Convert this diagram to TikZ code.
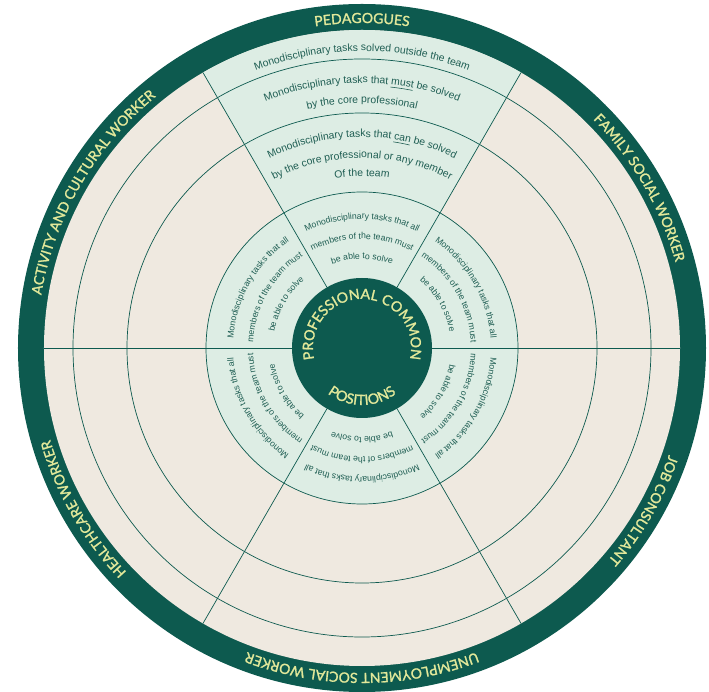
\documentclass[tikz,border=0pt]{standalone}
\usepackage{fontspec}
\newfontfamily\labelfont[FakeBold=1.4]{Lato}
\newfontfamily\taskfont{Liberation Sans}
\usetikzlibrary{decorations.text}
\definecolor{darkteal}{HTML}{0D5A4F}
\definecolor{mint}{HTML}{DDEDE4}
\definecolor{sand}{HTML}{EFE9E0}
\definecolor{straw}{HTML}{E2E89A}
\definecolor{ink}{HTML}{1F5E53}
\tikzset{
  ringline/.style={draw=darkteal, line width=0.7pt},
  ringlabel/.style={decorate, decoration={text along path, text align=center, text color=straw,
    text={|\labelfont\fontsize{14}{16}\selectfont|#1}}},
  hublabel/.style={decorate, decoration={text along path, text align=center, text color=straw,
    text={|\labelfont\fontsize{14.2}{16}\selectfont|#1}}},
  wedgetext/.style={decorate, decoration={text along path, text align=center, text color=ink,
    text={|\taskfont\fontsize{10.4}{12}\selectfont|#1}}},
  tasktext/.style={decorate, decoration={text along path, text align=center, text color=ink,
    text={|\taskfont\fontsize{8.7}{10}\selectfont|#1}}}
}
\begin{document}
\begin{tikzpicture}
\useasboundingbox (-362pt,-344pt) rectangle (347pt,348pt);
\fill[darkteal] (0,0) circle (344pt);
\fill[sand] (0,0) circle (318pt);
\fill[mint] (0,0) -- (60:318pt) arc[start angle=60, end angle=120, radius=318pt] -- cycle;
\fill[mint] (0,0) circle (156pt);
\foreach \r in {156,235,289}
  \draw[ringline] (0,0) circle (\r pt);
\foreach \a in {0,60,...,300}
  \draw[ringline] (\a:70pt) -- (\a:318pt);
\fill[darkteal] (0,0) circle (70pt);

\path[ringlabel=PEDAGOGUES] (130:325pt) arc[start angle=130, end angle=50, radius=325pt];
\path[ringlabel=FAMILY SOCIAL WORKER] (70:325pt) arc[start angle=70, end angle=-10, radius=325pt];
\path[ringlabel=JOB CONSULTANT] (10:325pt) arc[start angle=10, end angle=-70, radius=325pt];
\path[ringlabel=UNEMPLOYMENT SOCIAL WORKER] (-50:325pt) arc[start angle=-50, end angle=-130, radius=325pt];
\path[ringlabel=HEALTHCARE WORKER] (-110:325pt) arc[start angle=-110, end angle=-190, radius=325pt];
\path[ringlabel=ACTIVITY AND CULTURAL WORKER] (190:325pt) arc[start angle=190, end angle=110, radius=325pt];

\path[hublabel=PROFESSIONAL COMMON] (205:49pt) arc[start angle=205, end angle=-25, radius=49pt];
\path[hublabel=POSITIONS] (210:57pt) arc[start angle=210, end angle=330, radius=57pt];

\path[wedgetext=Monodisciplinary tasks solved outside the team] (120:297pt) arc[start angle=120, end angle=60, radius=297pt];
\path[wedgetext=Monodisciplinary tasks that must be solved] (120:265pt) arc[start angle=120, end angle=60, radius=265pt];
\path[wedgetext=by the core professional] (120:245pt) arc[start angle=120, end angle=60, radius=245pt];
\path[wedgetext=Monodisciplinary tasks that can be solved] (120:211pt) arc[start angle=120, end angle=60, radius=211pt];
\path[wedgetext=by the core professional or any member] (120:190pt) arc[start angle=120, end angle=60, radius=190pt];
\path[wedgetext=Of the team] (120:172pt) arc[start angle=120, end angle=60, radius=172pt];
\draw[ink, line width=0.6pt] (83.8:262.5pt) arc[start angle=83.8, end angle=78.9, radius=262.5pt];
\draw[ink, line width=0.6pt] (81.4:208.5pt) arc[start angle=81.4, end angle=76.8, radius=208.5pt];

\foreach \c in {90,30,-30,-90,-150,150}{
  \path[tasktext=Monodisciplinary tasks that all] ({\c+30}:129pt) arc[start angle=\c+30, end angle=\c-30, radius=129pt];
  \path[tasktext=members of the team must] ({\c+30}:109pt) arc[start angle=\c+30, end angle=\c-30, radius=109pt];
  \path[tasktext=be able to solve] ({\c+30}:89pt) arc[start angle=\c+30, end angle=\c-30, radius=89pt];
}
\end{tikzpicture}
\end{document}
